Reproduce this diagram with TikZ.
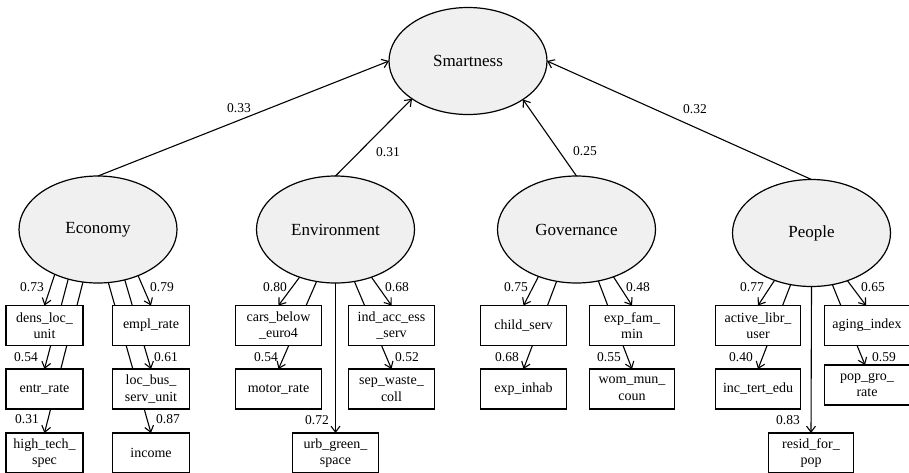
\documentclass[tikz,border=0pt]{standalone}
\usepackage{fontspec}
\setmainfont{Liberation Serif}[Ligatures=TeX]
\newfontfamily\tnr{Liberation Serif}
\usetikzlibrary{arrows.meta,shapes.geometric,backgrounds}
\definecolor{latfill}{RGB}{240,240,240}
\begin{document}
\begin{tikzpicture}[x=1pt,y=-1pt,
  latent/.style={ellipse,draw,line width=1.2pt,fill=latfill,minimum width=158pt,minimum height=107pt,inner sep=0pt,outer sep=0pt,font=\tnr\fontsize{17}{20}\selectfont},
  obsbox/.style={rectangle,draw,line width=1.3pt,fill=white,minimum height=40pt,inner sep=1pt,outer sep=0pt,align=center,font=\tnr\fontsize{14}{16.5}\selectfont},
  narrow/.style={minimum width=77pt},
  wide/.style={minimum width=85.5pt},
  coef/.style={inner sep=0pt,font=\tnr\fontsize{13.5}{16}\selectfont},
  link/.style={line width=1.1pt,-{Straight Barb[length=6pt,width=9pt]}}
]
\useasboundingbox (0,0) rectangle (909,472);

% latent variables
\node[latent] (smart) at (468,61) {Smartness};
\node[latent] (econ) at (98,229.5) {Economy};
\node[latent] (env) at (335.5,229.5) {Environment};
\node[latent] (gov) at (576.5,229.5) {Governance};
\node[latent] (peop) at (811.5,233) {People};

% Economy indicators
\node[obsbox,narrow] (dens) at (44.5,325.5) {dens\_loc\_\\unit};
\node[obsbox,narrow] (entr) at (44.5,389) {entr\_rate};
\node[obsbox,narrow] (high) at (44.5,453) {high\_tech\_\\spec};
\node[obsbox,narrow] (empl) at (151,325.5) {empl\_rate};
\node[obsbox,narrow] (locbus) at (151,389) {loc\_bus\_\\serv\_unit};
\node[obsbox,narrow] (income) at (151,453) {income};

% Environment indicators
\node[obsbox,wide] (cars) at (278.5,325.5) {cars\_below\\\_euro4};
\node[obsbox,wide] (motor) at (278.5,389) {motor\_rate};
\node[obsbox,wide] (indacc) at (391.5,325.5) {ind\_acc\_ess\\\_serv};
\node[obsbox,wide] (sepw) at (391.5,389) {sep\_waste\_\\coll};
\node[obsbox,wide] (urb) at (335.5,453) {urb\_green\_\\space};

% Governance indicators
\node[obsbox,wide] (child) at (523.5,325.5) {child\_serv};
\node[obsbox,wide] (inhab) at (523.5,389) {exp\_inhab};
\node[obsbox,wide] (fam) at (632,325.5) {exp\_fam\_\\min};
\node[obsbox,wide] (wom) at (632,389) {wom\_mun\_\\coun};

% People indicators
\node[obsbox,wide] (active) at (758,325.5) {active\_libr\_\\user};
\node[obsbox,wide] (inct) at (758,389) {inc\_tert\_edu};
\node[obsbox,wide] (resid) at (811,453) {resid\_for\_\\pop};
\node[obsbox,wide] (aging) at (867,325.5) {aging\_index};
\node[obsbox,wide] (popgro) at (867,385) {pop\_gro\_\\rate};

% second-order paths
\draw[link] (econ.north) -- (smart.west);
\draw[link] (env.north) -- (smart.214);
\draw[link] (gov.north) -- (smart.325);
\draw[link] (peop.north) -- (smart.east);

% first-order loadings (behind boxes)
\begin{pgfonlayer}{background}
\draw[link] (econ.226) -- (dens.north);
\draw[link] (econ.239) -- (entr.north);
\draw[link] (econ.254) -- (high.north);
\draw[link] (econ.311) -- (empl.north);
\draw[link] (econ.298) -- (locbus.north);
\draw[link] (econ.281) -- (income.north);

\draw[link] (env.233.5) -- (cars.north);
\draw[link] (env.250.5) -- (motor.north);
\draw[link] (env.270) -- (urb.north);
\draw[link] (env.290.5) -- (sepw.north);
\draw[link] (env.307.5) -- (indacc.north);

\draw[link] (gov.231.5) -- (child.north);
\draw[link] (gov.249.5) -- (inhab.north);
\draw[link] (gov.293.5) -- (wom.north);
\draw[link] (gov.308.5) -- (fam.north);

\draw[link] (peop.232) -- (active.north);
\draw[link] (peop.248.5) -- (inct.north);
\draw[link] (peop.270) -- (resid.north);
\draw[link] (peop.292.5) -- ([xshift=-2pt]popgro.north);
\draw[link] (peop.307) -- ([xshift=-1pt]aging.north);
\end{pgfonlayer}

% coefficient labels
\node[coef] (c1) at (239,108) {0.33};
\node[coef] (c2) at (388,152) {0.31};
\node[coef] (c3) at (585,151) {0.25};
\node[coef] (c4) at (695,109) {0.32};

\node[coef] (e1) at (32,287) {0.73};
\node[coef] (e2) at (26,357) {0.54};
\node[coef] (e3) at (27,419) {0.31};
\node[coef] (e4) at (162,287) {0.79};
\node[coef] (e5) at (166,357) {0.61};
\node[coef] (e6) at (168,419) {0.87};

\node[coef] (v1) at (275,287) {0.80};
\node[coef] (v2) at (266,357) {0.54};
\node[coef] (v3) at (317,420) {0.72};
\node[coef] (v4) at (397,287) {0.68};
\node[coef] (v5) at (407,357) {0.52};

\node[coef] (g1) at (516,287) {0.75};
\node[coef] (g2) at (507,357) {0.68};
\node[coef] (g3) at (638,287) {0.48};
\node[coef] (g4) at (609,357) {0.55};

\node[coef] (p1) at (752,287) {0.77};
\node[coef] (p2) at (741,357) {0.40};
\node[coef] (p3) at (788,420) {0.83};
\node[coef] (p4) at (873,287) {0.65};
\node[coef] (p5) at (884,357) {0.59};
\end{tikzpicture}
\end{document}
